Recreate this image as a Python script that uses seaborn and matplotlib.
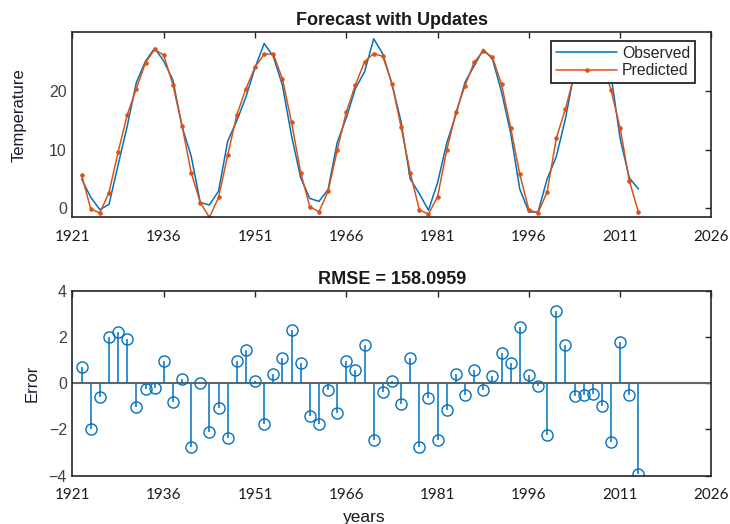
import numpy as np
import pandas as pd
import matplotlib
matplotlib.use('Agg')
import matplotlib.pyplot as plt
from matplotlib import font_manager
import seaborn as sns
from matplotlib.transforms import offset_copy

# time axis (one point every 1.5 years)
years = [1922.5, 1924, 1925.5, 1927, 1928.5, 1930, 1931.5, 1933, 1934.5, 1936,
         1937.5, 1939, 1940.5, 1942, 1943.5, 1945, 1946.5, 1948, 1949.5, 1951,
         1952.5, 1954, 1955.5, 1957, 1958.5, 1960, 1961.5, 1963, 1964.5, 1966,
         1967.5, 1969, 1970.5, 1972, 1973.5, 1975, 1976.5, 1978, 1979.5, 1981,
         1982.5, 1984, 1985.5, 1987, 1988.5, 1990, 1991.5, 1993, 1994.5, 1996,
         1997.5, 1999, 2000.5, 2002, 2003.5, 2005, 2006.5, 2008, 2009.5, 2011,
         2012.5, 2014]

observed = [5.0, 1.9, -0.2, 0.7, 7.4, 14.0, 21.4, 25.0, 27.2, 25.0,
            21.8, 13.9, 8.9, 1.0, 0.6, 2.95, 11.4, 14.9, 18.9, 23.9,
            28.0, 25.8, 20.9, 12.3, 5.2, 1.7, 1.2, 3.2, 11.2, 15.4,
            20.4, 23.2, 28.8, 26.2, 21.1, 14.7, 5.0, 2.5, -0.3, 4.4,
            11.1, 15.9, 21.4, 24.2, 27.0, 25.4, 19.8, 12.8, 3.3, -0.6,
            -0.6, 5.0, 8.8, 15.2, 23.4, 26.5, 27.5, 26.0, 22.6, 11.8,
            5.2, 3.3]

predicted = [5.7, -0.1, -0.75, 2.7, 9.6, 15.9, 20.35, 24.75, 27.0, 26.0,
             21.0, 14.05, 6.1, 1.0, -1.5, 1.87, 9.0, 15.9, 20.3, 24.0,
             26.2, 26.2, 22.0, 14.6, 6.1, 0.28, -0.56, 2.9, 9.9, 16.4,
             21.0, 24.9, 26.3, 25.8, 21.2, 13.8, 6.1, -0.25, -0.95, 2.0,
             9.9, 16.3, 20.85, 24.8, 26.7, 25.7, 21.1, 13.7, 5.8, -0.25,
             -0.73, 2.8, 11.9, 16.9, 22.8, 26.0, 27.0, 25.0, 20.1, 13.6,
             4.7, -0.6]

errors = [0.69, -1.96, -0.58, 2.0, 2.23, 1.93, -1.05, -0.26, -0.22, 0.98,
          -0.81, 0.16, -2.77, 0.0, -2.09, -1.08, -2.38, 0.98, 1.44, 0.1,
          -1.76, 0.4, 1.08, 2.28, 0.88, -1.43, -1.76, -0.29, -1.31, 0.98,
          0.55, 1.66, -2.45, -0.4, 0.09, -0.91, 1.08, -2.74, -0.65, -2.45,
          -1.18, 0.4, -0.52, 0.59, -0.29, 0.32, 1.31, 0.88, 2.45, 0.35,
          -0.13, -2.26, 3.13, 1.66, -0.56, -0.53, -0.48, -0.97, -2.55, 1.79,
          -0.49, -3.92]

xticks = [1921, 1936, 1951, 1966, 1981, 1996, 2011, 2026]
rmse_text = 'RMSE = 158.0959'

df = pd.DataFrame({'year': years, 'Observed': observed,
                   'Predicted': predicted, 'Error': errors})

blue = '#0072BD'
orange = '#D95319'

sns.set_style('white')
plt.rcParams['font.family'] = ['Liberation Sans', 'DejaVu Sans']

# narrow face for the year labels if there is one
installed = {f.name for f in font_manager.fontManager.ttflist}
if 'Liberation Sans Narrow' in installed:
    xfont, xsize = 'Liberation Sans Narrow', 13.5
else:
    xfont, xsize = 'Lato', 11

fig = plt.figure(figsize=(7.3, 5.24), dpi=100)
ax1 = fig.add_axes([0.0993, 0.5853, 0.8753, 0.3542])
ax2 = fig.add_axes([0.0993, 0.0922, 0.8753, 0.3531])

sns.lineplot(data=df, x='year', y='Observed', ax=ax1, color=blue,
             linewidth=1.1, label='Observed')
sns.lineplot(data=df, x='year', y='Predicted', ax=ax1, color=orange,
             linewidth=1.1, marker='.', markersize=5,
             markeredgecolor=orange, label='Predicted')
ax1.set_ylim(-1.5, 30)
ax1.set_yticks([0, 10, 20])
ax1.set_title('Forecast with Updates', fontsize=13, fontweight='bold',
              pad=5, color='#1a1a1a')
ax1.set_ylabel('Temperature', fontsize=12, color='#1a1a2e')
ax1.set_xlabel('')
leg = ax1.legend(loc='upper right', bbox_to_anchor=(0.974, 0.95),
                 fontsize=11.3, handlelength=3.9, fancybox=False,
                 framealpha=1, borderpad=0.3, labelspacing=0.15,
                 handletextpad=0.3, borderaxespad=0)
leg.get_frame().set_edgecolor('#262626')
leg.get_frame().set_linewidth(1.3)

# stem plot of the errors
ax2.vlines(df['year'], 0, df['Error'], color=blue, linewidth=1.1)
ax2.axhline(0, color='#666666', linewidth=1.5, zorder=1)
sns.lineplot(data=df, x='year', y='Error', ax=ax2, linestyle='',
             marker='o', markersize=8, markerfacecolor='none',
             markeredgecolor=blue, markeredgewidth=1.0)
ax2.set_ylim(-4, 4)
ax2.set_yticks([-4, -2, 0, 2, 4])
ax2.set_title(rmse_text, fontsize=13, fontweight='bold', pad=5,
              color='#1a1a1a')
ax2.set_ylabel('Error', fontsize=12, color='#1a1a2e')
ax2.set_xlabel('years', fontsize=12.5, color='#1a1a1a')
ax2.xaxis.set_label_coords(0.456, -0.185)

top_offsets = [18, 3, 10, 4, 0, 1, -2, -4]
bottom_offsets = [22, 8, 13, 9, 4, 6, 0, -21]

for ax, offs in [(ax1, top_offsets), (ax2, bottom_offsets)]:
    ax.set_xlim(1921, 2026)
    ax.set_xticks(xticks)
    ax.set_xticklabels([str(t) for t in xticks], fontsize=xsize,
                       family=[xfont, 'DejaVu Sans'], color='#1a1a1a')
    for lab, dx in zip(ax.get_xticklabels(), offs):
        lab.set_transform(offset_copy(lab.get_transform(), fig=fig,
                                      x=dx, y=0, units='dots'))
    ax.tick_params(axis='both', direction='in', top=True, right=True,
                   length=4, width=1, color='#262626')
    ax.tick_params(axis='x', pad=9)
    ax.tick_params(axis='y', labelsize=11.5, labelcolor='#404040', pad=4)
    for s in ax.spines.values():
        s.set_color('#262626')
        s.set_linewidth(1.2)

ax1.yaxis.set_label_coords(-0.071, 0.55)
ax2.yaxis.set_label_coords(-0.051, 0.5)

plt.savefig('out.png', dpi=100)
